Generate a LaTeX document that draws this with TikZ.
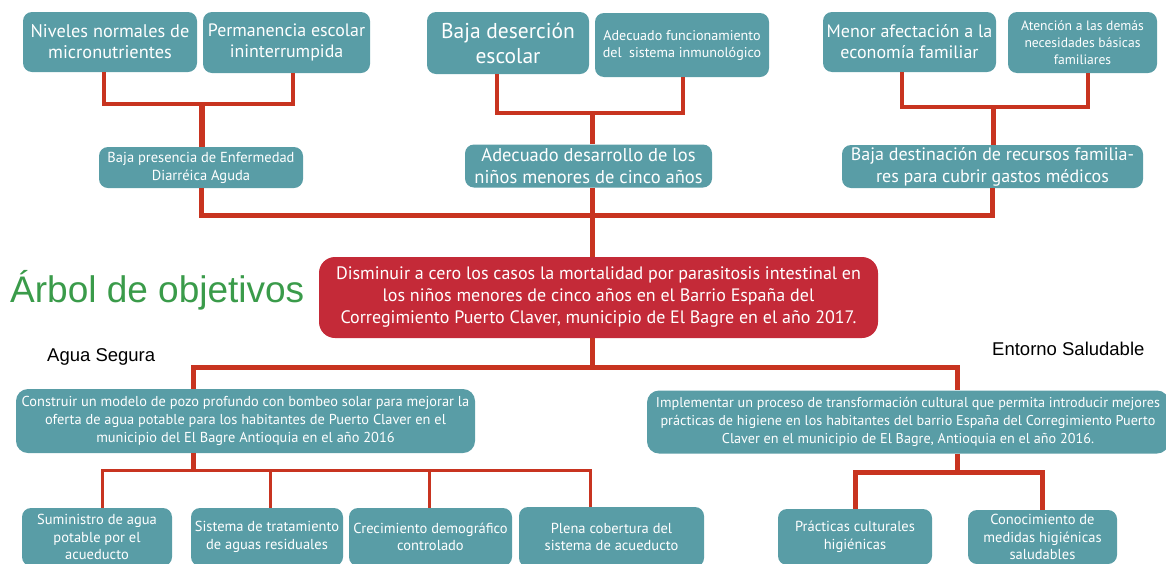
\documentclass[tikz,border=0pt]{standalone}
\usepackage{fontspec}
\setmainfont{PT Sans}
\newfontfamily\arialf{Liberation Sans}
\definecolor{boxteal}{RGB}{89,157,166}
\definecolor{mainred}{RGB}{196,42,56}
\definecolor{linered}{RGB}{200,52,32}
\definecolor{titlegreen}{RGB}{58,155,74}
\newcommand\boxfs[2]{\fontsize{#1}{#2}\selectfont}
\tikzset{
 tbox/.style={fill=boxteal, text=white, rounded corners=9pt, align=center, inner sep=0pt},
 rbox/.style={fill=mainred, text=white, rounded corners=16pt, align=center, inner sep=0pt},
 lthin/.style={draw=linered, line width=3.5pt},
 lvthin/.style={draw=linered, line width=3pt},
 lmid/.style={draw=linered, line width=5pt},
 lthick/.style={draw=linered, line width=6pt},
 plain/.style={anchor=base west, inner sep=0pt},
}
\begin{document}
\begin{tikzpicture}[x=1pt,y=-1pt]
\useasboundingbox (0,0) rectangle (1166,563);
\clip (0,0) rectangle (1166,563);
% top level
\node[tbox, minimum width=174pt, minimum height=60pt, font=\boxfs{18.3}{21}] (A) at (110,42) {Niveles normales de\\micronutrientes};
\node[tbox, minimum width=167pt, minimum height=61pt, font=\boxfs{17.9}{21}] (B) at (286.5,42.5) {Permanencia escolar\\ininterrumpida};
\node[tbox, minimum width=204pt, minimum height=41pt, font=\boxfs{14.5}{18}] (C) at (201,167.5) {Baja presencia de Enfermedad\\Diarréica Aguda};
\node[tbox, minimum width=162pt, minimum height=62pt, font=\boxfs{21.5}{25}] (D) at (508,43) {Baja deserción\\escolar};
\node[tbox, minimum width=174pt, minimum height=64pt, font=\boxfs{14.1}{17}] (E) at (682,45) {Adecuado funcionamiento\\del\ \ sistema inmunológico};
\node[tbox, minimum width=247pt, minimum height=43pt, font=\boxfs{18.5}{22}] (F) at (588.5,166) {Adecuado desarrollo de los\\niños menores de cinco años};
\node[tbox, minimum width=173pt, minimum height=60pt, font=\boxfs{18}{21}] (G) at (909.5,42) {Menor afectación a la\\economía familiar};
\node[tbox, minimum width=149pt, minimum height=61pt, font=\boxfs{13.6}{17}] (H) at (1082.5,42.5) {Atención a las demás\\necesidades básicas\\familiares};
\node[tbox, minimum width=301pt, minimum height=43pt, font=\boxfs{18}{22}] (I) at (992.5,166.5) {Baja destinación de recursos familia-\\res para cubrir gastos médicos};
% main
\node[rbox, minimum width=559pt, minimum height=81pt, font=\boxfs{18}{22}] (J) at (598.5,297.5) {Disminuir a cero los casos la mortalidad por parasitosis intestinal en\\los niños menores de cinco años en el Barrio España del\\Corregimiento Puerto Claver, municipio de El Bagre en el año 2017.};
% lower
\node[tbox, rounded corners=12pt, minimum width=459pt, minimum height=64pt, font=\boxfs{14.4}{18}] (K) at (245.5,421) {Construir un modelo de pozo profundo con bombeo solar para mejorar la\\oferta de agua potable para los habitantes de Puerto Claver en el\\municipio del El Bagre Antioquia en el año 2016};
\node[tbox, rounded corners=12pt, minimum width=522pt, minimum height=63pt, font=\boxfs{14.2}{18}] (L) at (908,422) {Implementar un proceso de transformación cultural que permita introducir mejores\\prácticas de higiene en los habitantes del barrio España del Corregimiento Puerto\\Claver en el municipio de El Bagre, Antioquia en el año 2016.};
\node[tbox, minimum width=150pt, minimum height=58pt, font=\boxfs{14.5}{17.5}] (M1) at (97,537) {Suministro de agua\\potable por el\\acueducto};
\node[tbox, minimum width=152pt, minimum height=58pt, font=\boxfs{14.5}{17.5}] (M2) at (267,537) {Sistema de tratamiento\\de aguas residuales};
\node[tbox, minimum width=163pt, minimum height=58pt, font=\boxfs{14.5}{17.5}] (M3) at (430.5,537) {Crecimiento demográfico\\controlado};
\node[tbox, minimum width=185pt, minimum height=60pt, font=\boxfs{14.5}{17.5}] (M4) at (611.5,537) {Plena cobertura del\\sistema de acueducto};
\node[tbox, minimum width=154pt, minimum height=56pt, font=\boxfs{14.5}{17.5}] (N1) at (855,537) {Prácticas culturales\\higiénicas};
\node[tbox, minimum width=149pt, minimum height=54pt, font=\boxfs{14.5}{17.5}] (N2) at (1042.5,537) {Conocimiento de\\medidas higiénicas\\saludables};
% labels
\node[plain, text=titlegreen, font=\arialf\boxfs{37}{40}] (title) at (10,302) {Árbol de objetivos};
\node[plain, font=\arialf\boxfs{18.5}{20}] (agua) at (47,361) {Agua Segura};
\node[plain, font=\arialf\boxfs{18.5}{20}] (entorno) at (992,355) {Entorno Saludable};
% connectors top
\coordinate (jABC) at (202,104);
\draw[lthin] ([xshift=-6pt]A.south) |- (jABC) -| ([xshift=6.5pt]B.south);
\draw[lthick] (jABC) -- (jABC |- C.north);
\coordinate (jDEF) at (592,113);
\draw[lthin] ([xshift=-11pt]D.south) |- (jDEF) -| ([xshift=1pt]E.south);
\draw[lmid] (jDEF) -- (jDEF |- F.north);
\coordinate (jGHI) at (993,107);
\draw[lthin] ([xshift=-7.5pt]G.south) |- (jGHI) -| ([xshift=5.5pt]H.south);
\draw[lmid] (jGHI) -- (jGHI |- I.north);
\coordinate (jTop) at (592,215);
\draw[lmid] (C.south) |- (jTop) -| (I.south);
\draw[lmid] (F.south -| jTop) -- (jTop |- J.north);
% connectors bottom
\coordinate (jJ) at (592,367);
\coordinate (jK) at (193,367);
\coordinate (jL) at (957,367);
\draw[lmid] (J.south -| jJ) -- (jJ);
\draw[lmid] (jK |- K.north) -- (jK) -- (jL) -- (jL |- L.north);
\coordinate (jKm) at (193,470);
\draw[lmid] (K.south -| jKm) -- (jKm);
\coordinate (m1) at (102,470);
\coordinate (m2) at (270,470);
\coordinate (m3) at (429,470);
\coordinate (m4) at (590,470);
\draw[lvthin] (m1 |- M1.north) -- (m1) -- (m4) -- (m4 |- M4.north);
\draw[lvthin] (m2) -- (m2 |- M2.north);
\draw[lvthin] (m3) -- (m3 |- M3.north);
\coordinate (jLn) at (957,472);
\draw[lmid] (L.south -| jLn) -- (jLn);
\draw[lmid] (N1.north) |- (jLn) -| (N2.north);
\end{tikzpicture}
\end{document}
